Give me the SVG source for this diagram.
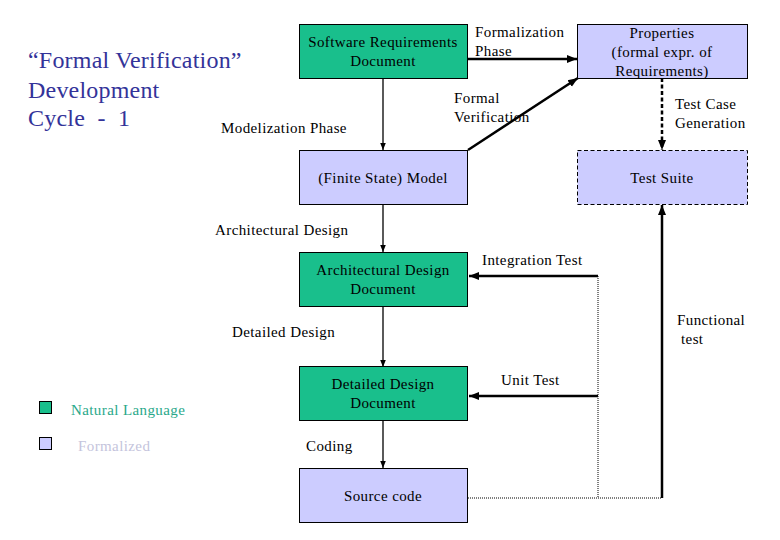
<svg xmlns="http://www.w3.org/2000/svg" width="780" height="540" viewBox="0 0 780 540">
<style>
text{font-family:"Liberation Serif","Times New Roman",serif;font-size:15px;letter-spacing:0.4px;fill:#000}
.nl{fill:#19bf8c;stroke:#000;stroke-width:1}
.fm{fill:#ccccff;stroke:#000;stroke-width:1}
.c{text-anchor:middle}
.ln{stroke:#000;stroke-width:1.3;fill:none}
.bold{stroke:#000;stroke-width:2.5;fill:none}
.dot{stroke:#000;stroke-width:1;stroke-dasharray:1 1;fill:none}
.ttl{font-size:24px;letter-spacing:0.2px;fill:#333399}
</style>
<defs>
<marker id="ah" viewBox="0 0 10 10" refX="10" refY="5" markerWidth="4" markerHeight="4" orient="auto" markerUnits="strokeWidth">
<path d="M0,1 L10,5 L0,9 z" fill="#000"/>
</marker>
<marker id="ah2" viewBox="0 0 10 10" refX="10" refY="5" markerWidth="7" markerHeight="7" orient="auto" markerUnits="userSpaceOnUse">
<path d="M0,1 L10,5 L0,9 z" fill="#000"/>
</marker>
</defs>
<g id="title">
<text class="ttl" x="28" y="68">“Formal Verification”</text>
<text class="ttl" x="28" y="98">Development</text>
<text class="ttl" x="28" y="126" xml:space="preserve">Cycle  -  1</text>
</g>
<g id="connectors">
<line class="ln" x1="383" y1="78" x2="383" y2="150" marker-end="url(#ah2)"/>
<line class="ln" x1="383" y1="204" x2="383" y2="252" marker-end="url(#ah2)"/>
<line class="ln" x1="383" y1="306" x2="383" y2="367" marker-end="url(#ah2)"/>
<line class="ln" x1="383" y1="420" x2="383" y2="468" marker-end="url(#ah2)"/>
<line class="bold" x1="468" y1="59" x2="577" y2="59" marker-end="url(#ah)"/>
<line class="bold" x1="468" y1="150" x2="578" y2="78" marker-end="url(#ah)"/>
<line class="bold" x1="662" y1="78" x2="662" y2="150" stroke-dasharray="4 2.5" marker-end="url(#ah)"/>
<line class="bold" x1="598" y1="276" x2="469" y2="276" marker-end="url(#ah)"/>
<line class="bold" x1="598" y1="396" x2="469" y2="396" marker-end="url(#ah)"/>
<polyline class="dot" points="598,276 598,498"/>
<polyline class="dot" points="468,498 662,498"/>
<line class="bold" x1="662" y1="498" x2="662" y2="205" marker-end="url(#ah)"/>
</g>
<g id="srd"><rect class="nl" x="299.5" y="24.5" width="168" height="54"/><text class="c" x="383" y="47">Software Requirements</text><text class="c" x="383" y="66">Document</text></g>
<g id="properties"><rect class="fm" x="577.5" y="24.5" width="170" height="54"/><text class="c" x="662" y="38">Properties</text><text class="c" x="662" y="57">(formal expr. of</text><text class="c" x="662" y="76">Requirements)</text></g>
<g id="fsm"><rect class="fm" x="299.5" y="150.5" width="168" height="54"/><text class="c" x="383" y="183">(Finite State) Model</text></g>
<g id="testsuite"><rect class="fm" x="577.5" y="150.5" width="170" height="54" stroke-dasharray="4 2.5"/><text class="c" x="662" y="183">Test Suite</text></g>
<g id="add"><rect class="nl" x="299.5" y="252.5" width="168" height="54"/><text class="c" x="383" y="275">Architectural Design</text><text class="c" x="383" y="294">Document</text></g>
<g id="ddd"><rect class="nl" x="299.5" y="366.5" width="168" height="54"/><text class="c" x="383" y="389">Detailed Design</text><text class="c" x="383" y="408">Document</text></g>
<g id="src"><rect class="fm" x="299.5" y="468.5" width="168" height="54"/><text class="c" x="383" y="501">Source code</text></g>
<g id="labels">
<text x="475" y="37">Formalization</text><text x="475" y="56">Phase</text>
<text x="454" y="103">Formal</text><text x="454" y="122">Verification</text>
<text x="221" y="133">Modelization Phase</text>
<text x="675" y="109">Test Case</text><text x="675" y="128">Generation</text>
<text x="215" y="235">Architectural Design</text>
<text x="482" y="265">Integration Test</text>
<text x="232" y="337">Detailed Design</text>
<text x="677" y="325">Functional</text><text x="681" y="344">test</text>
<text x="501" y="385">Unit Test</text>
<text x="306" y="451">Coding</text>
</g>
<g id="legend">
<rect class="nl" x="39.5" y="401.5" width="12" height="12"/>
<text x="71" y="415" style="fill:#2aa88a">Natural Language</text>
<rect class="fm" x="39.5" y="437.5" width="12" height="12"/>
<text x="78" y="451" style="fill:#c4c4dc">Formalized</text>
</g>
</svg>
